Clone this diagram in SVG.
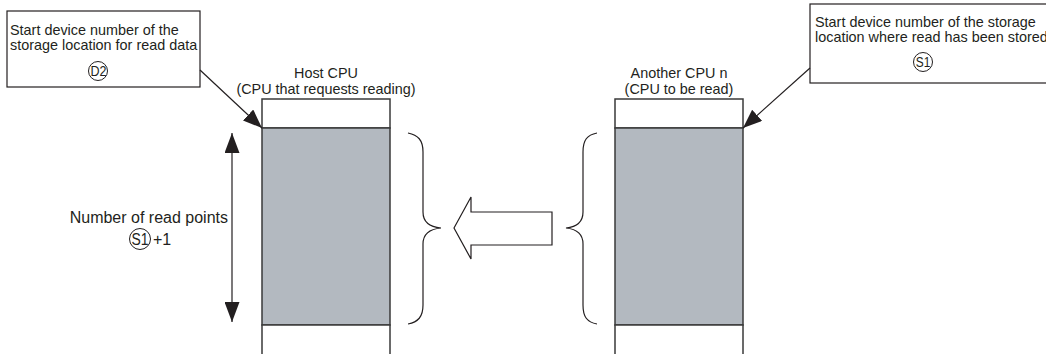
<svg xmlns="http://www.w3.org/2000/svg" width="1046" height="354" viewBox="0 0 1046 354">
<style>
text{font-family:"Liberation Sans",Arial,sans-serif;font-size:14.4px;fill:#231f20}
.big{font-size:16px}
.ct{font-size:14.5px}
.ctb{font-size:16px}
.box{fill:#fff;stroke:#231f20;stroke-width:1.2}
.cell{fill:#fff;stroke:#3a3a3a;stroke-width:1.5}
.gray{fill:#b3b9c0;stroke:#3a3a3a;stroke-width:1.5}
.ln{fill:none;stroke:#231f20;stroke-width:1.2}
.brace{fill:none;stroke:#231f20;stroke-width:1.2}
.c{fill:none;stroke:#231f20;stroke-width:1}
</style>
<defs>
<marker id="ah" markerWidth="19" markerHeight="15" refX="19" refY="7.5" orient="auto" markerUnits="userSpaceOnUse">
<path d="M0,0 L19,7.5 L0,15 Z" fill="#231f20"/>
</marker>
<marker id="dh" markerWidth="20" markerHeight="15" refX="20" refY="7.5" orient="auto-start-reverse" markerUnits="userSpaceOnUse">
<path d="M0,0 L20,7.5 L0,15 Z" fill="#231f20"/>
</marker>
</defs>

<g id="box-d2">
<rect class="box" x="7" y="11" width="193" height="76"/>
<text x="10" y="35">Start device number of the</text>
<text x="10" y="50">storage location for read data</text>
<circle class="c" cx="98" cy="71" r="9.5"/>
<text class="ct" x="98.5" y="76.2" text-anchor="middle" textLength="16" lengthAdjust="spacingAndGlyphs">D2</text>
</g>

<g id="box-s1">
<rect class="box" x="810" y="4" width="250" height="79"/>
<text x="815" y="27">Start device number of the storage</text>
<text x="815" y="42">location where read has been stored</text>
<circle class="c" cx="923" cy="62" r="9.5"/>
<text class="ct" x="923" y="67.2" text-anchor="middle" textLength="14.5" lengthAdjust="spacingAndGlyphs">S1</text>
</g>

<g id="host-cpu">
<text x="326" y="78" text-anchor="middle">Host CPU</text>
<text x="326" y="94" text-anchor="middle">(CPU that requests reading)</text>
<rect class="cell" x="262" y="99" width="128" height="29"/>
<rect class="gray" x="262" y="128" width="128" height="197"/>
<rect class="cell" x="262" y="325" width="128" height="32"/>
</g>

<g id="another-cpu">
<text x="679" y="78" text-anchor="middle">Another CPU n</text>
<text x="679" y="94" text-anchor="middle">(CPU to be read)</text>
<rect class="cell" x="615" y="99" width="128" height="29"/>
<rect class="gray" x="615" y="128" width="128" height="197"/>
<rect class="cell" x="615" y="325" width="128" height="32"/>
</g>

<g id="read-points">
<text class="big" x="228" y="223" text-anchor="end">Number of read points</text>
<circle class="c" cx="140" cy="239" r="10.5"/>
<text class="ctb" x="140" y="244.7" text-anchor="middle" textLength="17" lengthAdjust="spacingAndGlyphs">S1</text>
<text class="big" x="153" y="245">+1</text>
</g>

<g id="transfer-arrow">
<path d="M454,228 L471,197 L471,212 L552,212 L552,245 L471,245 L471,259 Z" fill="#fff" stroke="#231f20" stroke-width="1.2"/>
</g>

<g id="braces">
<path class="brace" d="M408,133 C418,135 423,140 423,152 L423,212 C423,222 430,227 441,228 C430,229 423,234 423,244 L423,305 C423,317 418,322 408,324"/>
<path class="brace" d="M597,133 C587,135 583,140 583,152 L583,212 C583,222 576,227 566,228 C576,229 583,234 583,244 L583,305 C583,317 587,322 597,324"/>
</g>

<g id="connectors">
<line class="ln" x1="200" y1="70" x2="262" y2="128" marker-end="url(#ah)"/>
<line class="ln" x1="810" y1="68" x2="743" y2="128" marker-end="url(#ah)"/>
<line class="ln" x1="232" y1="133" x2="232" y2="322" marker-start="url(#dh)" marker-end="url(#dh)"/>
</g>
</svg>
